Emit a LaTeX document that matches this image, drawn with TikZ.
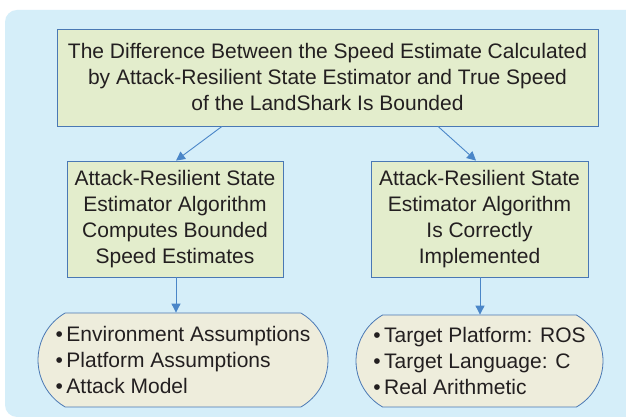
\documentclass[tikz,border=0pt]{standalone}
\usepackage{fontspec}
\setmainfont{Liberation Sans}
\usetikzlibrary{arrows.meta,shapes.misc}
\definecolor{bgblue}{HTML}{D5EEF9}
\definecolor{boxgreen}{HTML}{E3EDCC}
\definecolor{boxline}{HTML}{4A78B4}
\definecolor{ovalfill}{HTML}{EEEDDC}
\definecolor{arrowblue}{HTML}{4A86C8}
\definecolor{txt}{HTML}{231F20}
\tikzset{
  x=1pt,y=1pt,
  box/.style={draw=boxline,line width=0.8pt,fill=boxgreen,align=center,inner sep=0pt,
    text=txt,font=\fontsize{21}{26}\selectfont},
  oval/.style={draw=boxline,line width=0.8pt,fill=ovalfill,align=left,inner sep=0pt,
    rounded rectangle,rounded rectangle arc length=120,text=txt,font=\fontsize{21}{26}\selectfont},
  arr/.style={draw=arrowblue,line width=0.9pt,-{Triangle[length=9pt,width=9pt]}}
}
\begin{document}
\begin{tikzpicture}
\useasboundingbox (0,0) rectangle (626,419);
\fill[white] (0,0) rectangle (626,419);
\fill[bgblue,rounded corners=12pt] (5,2) rectangle (650,409);
% top box: x 57-598, y 29-126
\node[box,minimum width=541,minimum height=97] (top) at (327.5,341.5)
  {The Difference Between the Speed Estimate Calculated\\
   by Attack-Resilient State Estimator and True Speed\\
   of the LandShark Is Bounded};
% middle boxes: y 161-277
\node[box,minimum width=216,minimum height=116] (ml) at (175,200)
  {Attack-Resilient State\\Estimator Algorithm\\Computes Bounded\\Speed Estimates};
\node[box,minimum width=217,minimum height=116] (mr) at (479.5,200)
  {Attack-Resilient State\\Estimator Algorithm\\Is Correctly\\Implemented};
% bottom ovals
\node[oval,minimum width=290,minimum height=94] (bl) at (183,59)
  {\textbullet\,Environment Assumptions\\\textbullet\,Platform Assumptions\\\textbullet\,Attack Model};
\node[oval,minimum width=247,minimum height=92] (br) at (479.5,58)
  {\textbullet\,Target Platform: ROS\\\textbullet\,Target Language: C\\\textbullet\,Real Arithmetic};
% arrows
\draw[arr] (top.south -| 222,0) -- (ml.north -| 176,0);
\draw[arr] (top.south -| 438,0) -- (mr.north -| 476,0);
\draw[arr] (ml.south -| 176,0) -- (bl.north -| 176,0);
\draw[arr] (mr.south -| 480,0) -- (br.north -| 480,0);
\end{tikzpicture}
\end{document}
